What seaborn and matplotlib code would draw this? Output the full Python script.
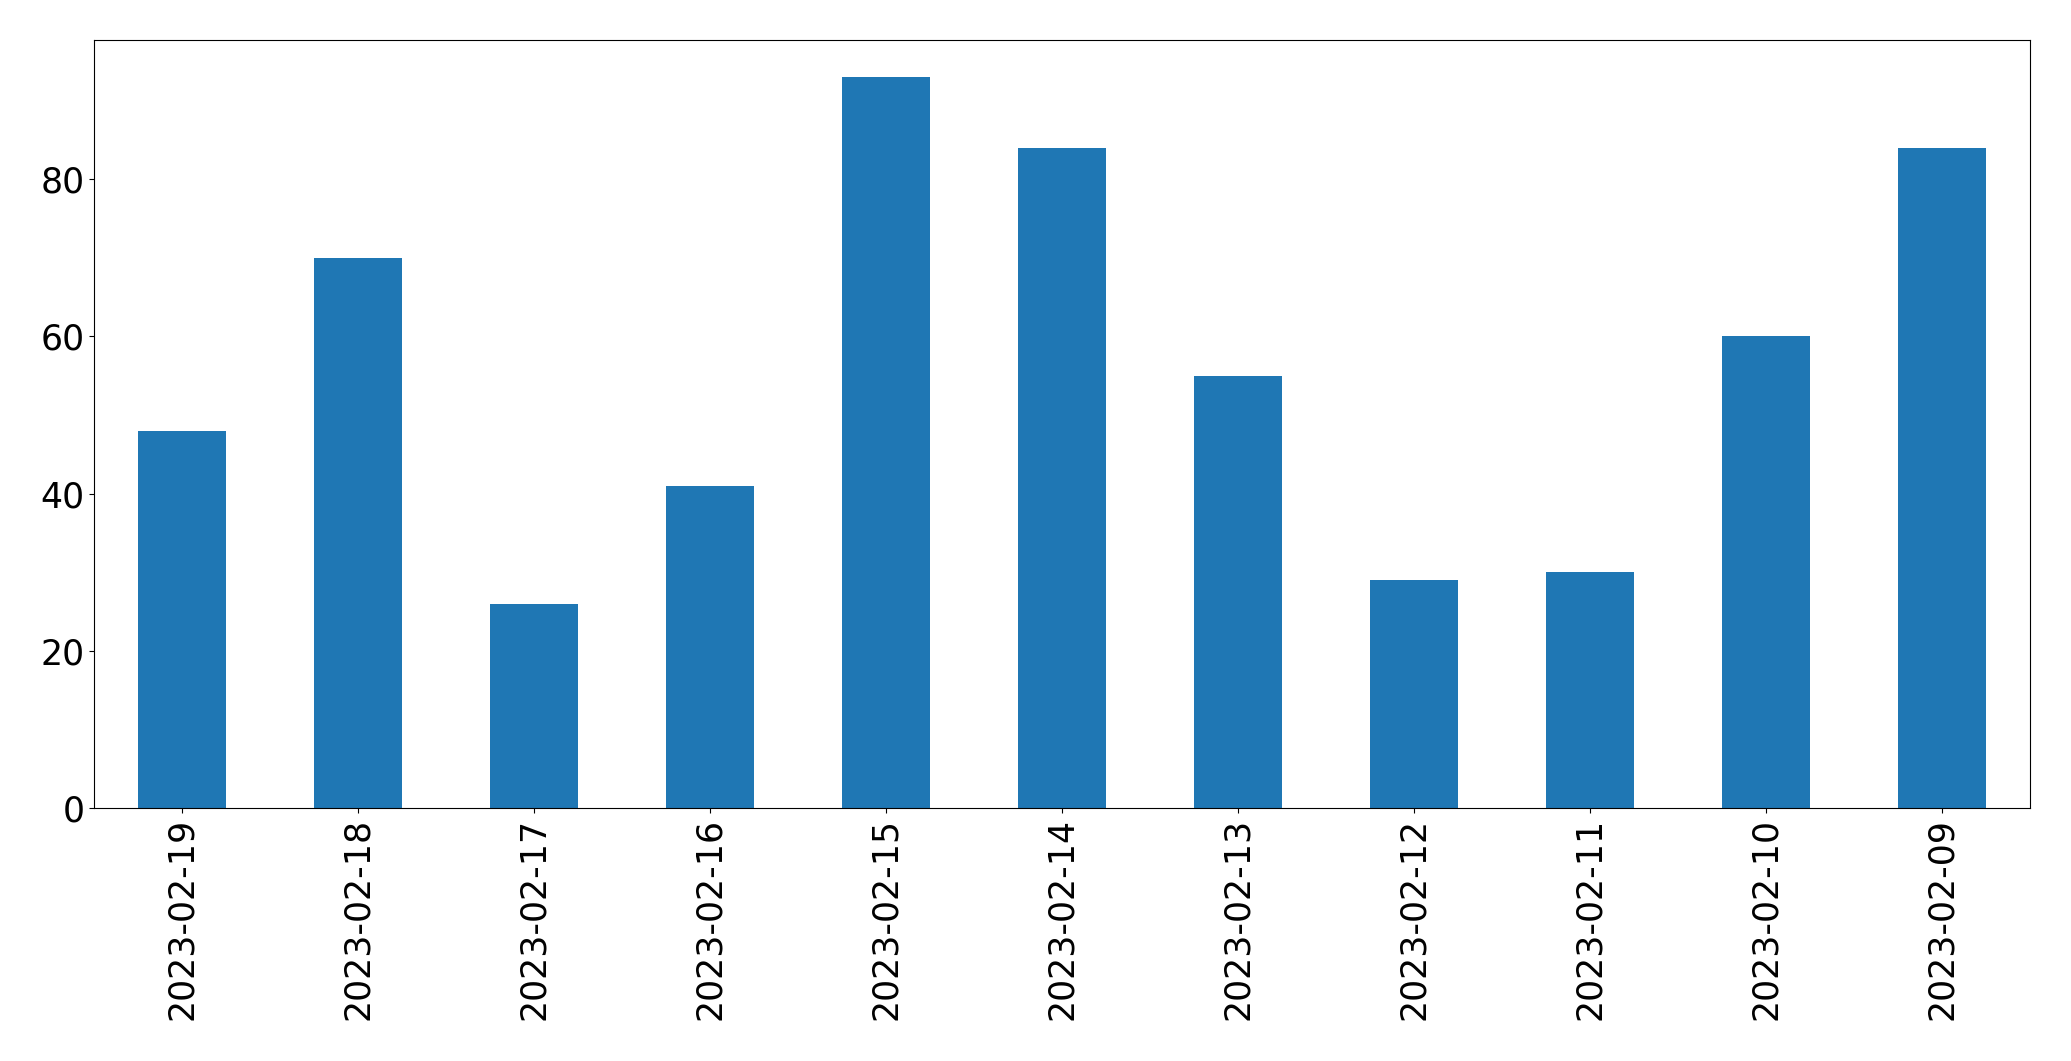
import pandas as pd
import matplotlib
matplotlib.use("Agg")
import matplotlib.pyplot as plt
import seaborn as sns

# Data
dates = ['2023-02-19', '2023-02-18', '2023-02-17', '2023-02-16', '2023-02-15',
         '2023-02-14', '2023-02-13', '2023-02-12', '2023-02-11', '2023-02-10',
         '2023-02-09']
counts = [48, 70, 26, 41, 93, 84, 55, 29, 30, 60, 84]

df = pd.DataFrame({'date': dates, 'count': counts})

fig, ax = plt.subplots(figsize=(20.71, 10.61), dpi=100)
fig.subplots_adjust(left=0.0454, right=0.980, bottom=0.2385, top=0.962)

sns.barplot(data=df, x='date', y='count', order=dates, color='#1f77b4',
            saturation=1, width=0.5, ax=ax)

ax.set_xlim(-0.5, len(dates) - 0.5)
ax.set_ylim(0, max(counts) * 1.05)
ax.set_xlabel('')
ax.set_ylabel('')
ax.tick_params(axis='both', labelsize=25)
ax.tick_params(axis='x', rotation=90)

fig.savefig('out.png', dpi=100)
